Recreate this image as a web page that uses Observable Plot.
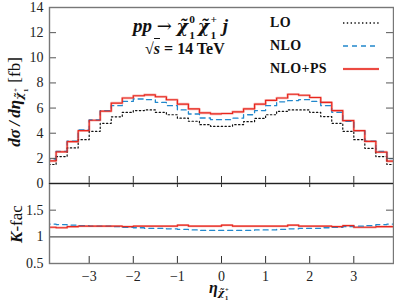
<!DOCTYPE html>
<html><head><meta charset="utf-8">
<script src="https://cdn.jsdelivr.net/npm/d3@7"></script>
<script src="https://cdn.jsdelivr.net/npm/@observablehq/plot@0.6"></script>
<style>
body{margin:0;background:#fff;}
#c{position:relative;width:394px;height:303px;overflow:hidden;font-family:"Liberation Serif","DejaVu Serif",serif;color:#111;}
#c > svg{position:absolute;left:0;overflow:visible;}
.t{position:absolute;white-space:nowrap;line-height:1;}
.m{font-weight:bold;font-style:italic;}
.u{font-weight:normal;font-style:normal;}
.b{font-weight:bold;font-style:normal;}
.chi{font-family:"DejaVu Serif",serif;font-size:0.92em;}
.arr{font-family:"DejaVu Serif",serif;font-weight:normal;font-size:0.95em;}
.ss{position:relative;display:inline-block;width:0.45em;height:0.7em;margin-left:0.06em;}
.ss span{position:absolute;left:0;font-size:0.6em;line-height:0.8;font-style:normal;font-weight:bold;}
.ss .p{top:-0.3em;}
.ss .q{top:1.05em;}
.sb{display:inline-block;font-size:0.68em;vertical-align:-0.3em;}
</style></head><body><div id="c"></div>
<script>
// bin edges (eta), 32 bins
const binEdges = [-4,-3.75,-3.5,-3.25,-3,-2.75,-2.5,-2.25,-2,-1.75,-1.5,-1.25,-1,-0.75,-0.5,-0.25,0,0.25,0.5,0.75,1,1.25,1.5,1.75,2,2.25,2.5,2.75,3,3.25,3.5,3.75,4];
// d sigma / d eta [fb]
const lo    = [1.51,2.14,2.83,3.49,4.15,4.79,5.3,5.65,5.8,5.85,5.66,5.47,5.2,4.95,4.68,4.55,4.55,4.68,4.92,5.18,5.47,5.74,5.85,5.85,5.66,5.32,4.79,4.15,3.49,2.8,2.14,1.51];
const nlo   = [1.95,2.56,3.36,4.26,5.05,5.8,6.19,6.53,6.72,6.67,6.45,6.19,5.85,5.53,5.21,5.08,5.08,5.2,5.47,5.8,6.19,6.5,6.6,6.67,6.53,6.19,5.66,4.95,4.2,3.36,2.56,1.98];
const nlops = [1.8,2.52,3.33,4.2,5.03,5.75,6.4,6.8,6.98,7.05,6.9,6.66,6.31,5.93,5.62,5.54,5.57,5.7,5.94,6.31,6.62,6.8,7.1,7.02,6.84,6.45,5.8,5.0,4.2,3.35,2.5,1.78];
// K-factors
const kNLO   = [1.24,1.23,1.22,1.21,1.2,1.2,1.19,1.18,1.17,1.16,1.16,1.15,1.14,1.13,1.12,1.12,1.12,1.12,1.12,1.13,1.13,1.14,1.15,1.16,1.16,1.17,1.18,1.19,1.2,1.21,1.23,1.24];
const kNLOPS = [1.18,1.17,1.19,1.2,1.2,1.2,1.2,1.19,1.2,1.2,1.2,1.2,1.22,1.2,1.2,1.2,1.22,1.2,1.2,1.2,1.2,1.2,1.22,1.2,1.2,1.2,1.19,1.21,1.18,1.18,1.19,1.19];
const yTicksTop = [0,2,4,6,8,10,12,14];
const yTicksBottom = [0.5,1,1.5];
const xTicks = [-3,-2,-1,0,1,2,3];
const legendLabels = ["LO","NLO","NLO+PS"];

const RED = "#e8261d", PINK = "#f7b9b5", BLUE = "#2288cc";
const steps = vals => vals.map((v,i)=>({x:binEdges[i], y:v})).concat([{x:binEdges[vals.length], y:vals[vals.length-1]}]);
const fmt = d => d < 0 ? "\u2212" + (-d) : String(d);
const xdom = [-3.9, 3.9];
const style = {background:"transparent", overflow:"visible", fontFamily:"'Liberation Serif', serif", fontSize:"14px", color:"#222"};

const topPanel = Plot.plot({
  width:394, height:184, marginLeft:49, marginRight:1, marginTop:7, marginBottom:1,
  x:{domain:xdom, axis:null}, y:{domain:[0,14], axis:null}, style,
  marks:[
    Plot.line(steps(nlops), {x:"x", y:"y", curve:"step-after", stroke:PINK, strokeWidth:2.6, clip:true}),
    Plot.line(steps(lo), {x:"x", y:"y", curve:"step-after", stroke:"#111", strokeWidth:1.2, strokeDasharray:"1.4,2.4", clip:true}),
    Plot.line(steps(nlo), {x:"x", y:"y", curve:"step-after", stroke:BLUE, strokeWidth:1.3, strokeDasharray:"5,4", clip:true}),
    Plot.line(steps(nlops), {x:"x", y:"y", curve:"step-after", stroke:RED, strokeWidth:1.2, clip:true}),
    Plot.ruleY([0], {stroke:"#222", strokeWidth:1.2}),
    Plot.tickY(yTicksTop, {y:d=>d, insetRight:337, stroke:"#555"}),
    Plot.tickY(yTicksTop, {y:d=>d, insetLeft:337, stroke:"#555"}),
    Plot.tickX(xTicks, {x:d=>d, insetTop:169, stroke:"#333"}),
    Plot.frame({stroke:"#777", strokeWidth:1.4}),
    Plot.axisY(yTicksTop, {tickSize:0, tickPadding:6, fill:"#222", label:null})
  ]
});
topPanel.style.top = "0px";

const botPanel = Plot.plot({
  width:394, height:121, marginLeft:49, marginRight:1, marginTop:1, marginBottom:40,
  x:{domain:xdom, axis:null}, y:{domain:[0.5,2], axis:null}, style,
  marks:[
    Plot.ruleY([1], {stroke:"#555", strokeWidth:1.2}),
    Plot.line(steps(kNLOPS), {x:"x", y:"y", curve:"step-after", stroke:PINK, strokeWidth:2.4, clip:true}),
    Plot.line(steps(kNLO), {x:"x", y:"y", curve:"step-after", stroke:BLUE, strokeWidth:1.3, strokeDasharray:"5,4", clip:true}),
    Plot.line(steps(kNLOPS), {x:"x", y:"y", curve:"step-after", stroke:RED, strokeWidth:1.2, clip:true}),
    Plot.tickX(xTicks, {x:d=>d, insetTop:73, stroke:"#333"}),
    Plot.tickX(xTicks, {x:d=>d, insetBottom:76, stroke:"#333"}),
    Plot.tickY([1.5], {y:d=>d, insetRight:337, stroke:"#555"}),
    Plot.tickY([1.5], {y:d=>d, insetLeft:337, stroke:"#555"}),
    Plot.frame({stroke:"#777", strokeWidth:1.4}),
    Plot.ruleY([2], {stroke:"#222", strokeWidth:1.2}),
    Plot.axisY(yTicksBottom, {tickSize:0, tickPadding:6, fill:"#222", label:null, tickFormat:d=>String(d)}),
    Plot.axisX(xTicks, {tickSize:0, tickPadding:8, fill:"#222", label:null, tickFormat:fmt})
  ]
});
botPanel.style.top = "182px";

const c = document.getElementById("c");
c.append(topPanel, botPanel);

const chi = (sup, sub) => `<span class="chi">\u03C7\u0303</span><span class="ss"><span class="p">${sup}</span><span class="q">${sub}</span></span>`;
const add = (html, css, cls="t") => { const d = document.createElement("div"); d.className = cls; d.style.cssText = css; d.innerHTML = html; c.append(d); return d; };

// title
add(`<span class="m">pp</span> <span class="arr">\u2192</span> <span class="m">${chi("0","1")}${chi("+","1")}&thinsp;j</span>`, "left:133px;top:16px;font-size:19px;");
add(`<span class="b">\u221A<span class="m" style="border-top:1.2px solid #111;padding-top:1px">s</span> = 14 TeV</span>`, "left:145px;top:41px;font-size:16px;");
// legend
const dashes = ["1.4,2.4","5,4",null], cols = ["#111",BLUE,RED];
legendLabels.forEach((lab,i) => {
  add(`<b>${lab}</b>`, `left:270px;top:${16+i*23}px;font-size:14px;letter-spacing:0.4px;`);
  const s = `<svg width="40" height="6" style="position:absolute;left:0;top:0;overflow:visible">` +
    (i==2 ? `<line x1="0" x2="36" y1="3" y2="3" stroke="${PINK}" stroke-width="2.6"/>` : "") +
    `<line x1="0" x2="36" y1="3" y2="3" stroke="${cols[i]}" stroke-width="1.3" ${dashes[i] ? `stroke-dasharray="${dashes[i]}"` : ""}/></svg>`;
  add(s, `left:343px;top:${19.5+i*23}px;width:40px;height:6px;`);
});
// y label top
add(`<span class="m">d\u03C3&thinsp;/&thinsp;d\u03B7</span><span class="sb m">${chi("+","1")}</span>&nbsp;<span class="u">[fb]</span>`,
  "left:16px;top:102px;font-size:17px;transform:translate(-50%,-50%) rotate(-90deg);");
// y label bottom
add(`<span class="m">K</span>-fac`, "left:16px;top:224px;font-size:17px;transform:translate(-50%,-50%) rotate(-90deg);");
// x label
add(`<span class="m">\u03B7</span><span class="sb m">${chi("+","1")}</span>`, "left:209px;top:280px;font-size:16px;");
</script></body></html>
